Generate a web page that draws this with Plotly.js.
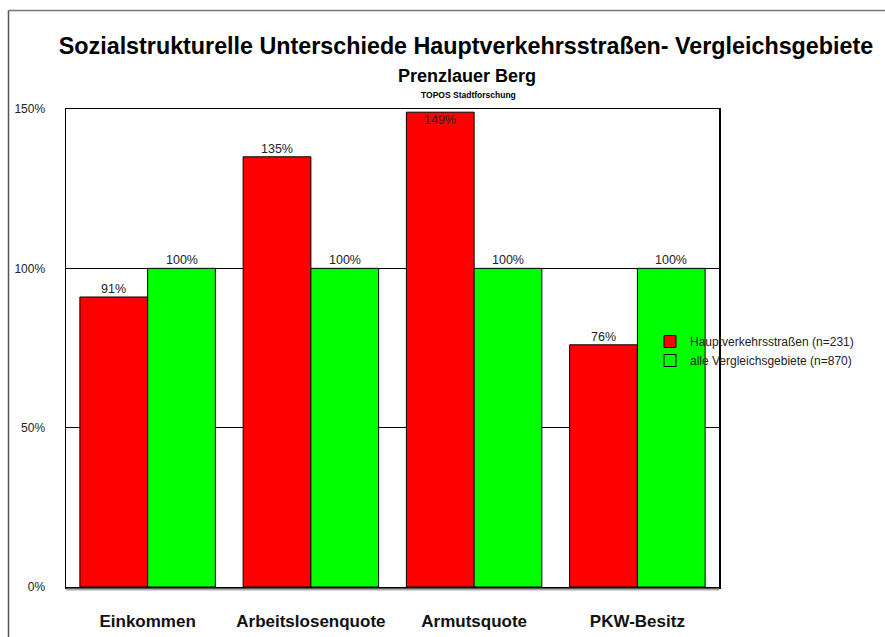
<!DOCTYPE html>
<html>
<head>
<meta charset="utf-8">
<script src="https://cdn.plot.ly/plotly-3.0.1.min.js"></script>
<style>html,body{margin:0;padding:0;background:#fff;}#chart{width:885px;height:637px;}</style>
</head>
<body>
<div id="chart"></div>
<script>
const categories = ["Einkommen", "Arbeitslosenquote", "Armutsquote", "PKW-Besitz"];
const hauptValues = [91, 135, 149, 76];
const vergleichValues = [100, 100, 100, 100];
const seriesNames = ["Hauptverkehrsstraßen (n=231)", "alle Vergleichsgebiete (n=870)"];
const yTickValues = [0, 50, 100, 150];
const yTickLabels = ["0%", "50%", "100%", "150%"];

const FONT = "Liberation Sans, Arial, sans-serif";
const W = 885, H = 637, L = 66, R = 166, T = 109, B = 50;
const pw = W - L - R, ph = H - T - B;
const px2x = p => (p - L) / pw;
const py2y = p => (H - B - p) / ph;

const bargap = 0.17;
const halfOff = (1 - bargap) / 4;

const traces = [
  {type: "bar", name: seriesNames[0], x: categories, y: hauptValues,
   marker: {color: "#FF0000", line: {color: "#000", width: 1}}, hoverinfo: "skip"},
  {type: "bar", name: seriesNames[1], x: categories, y: vergleichValues,
   marker: {color: "#00FF00", line: {color: "#000", width: 1}}, hoverinfo: "skip"}
];

const annotations = [];
[hauptValues, vergleichValues].forEach((vals, s) => {
  vals.forEach((v, i) => {
    const inside = v > 145;
    annotations.push({
      x: i + (s === 0 ? -halfOff : halfOff), xref: "x", y: v, yref: "y",
      text: v + "%", showarrow: false,
      yanchor: inside ? "top" : "bottom", yshift: inside ? 1 : -1,
      font: {family: FONT, size: 12.5, color: "#222"}
    });
  });
});
annotations.push({
  text: "<b>Prenzlauer Berg</b>", xref: "paper", yref: "paper",
  x: px2x(467), y: py2y(75.5), xanchor: "center", yanchor: "middle", showarrow: false,
  font: {family: FONT, size: 18, color: "#000"}
});
annotations.push({
  text: "<b>TOPOS Stadtforschung</b>", xref: "paper", yref: "paper",
  x: px2x(468), y: py2y(95), xanchor: "center", yanchor: "middle", showarrow: false,
  font: {family: FONT, size: 8.5, color: "#000"}
});

const shapes = [
  {type: "line", xref: "paper", yref: "paper", x0: px2x(8.5), x1: px2x(900), y0: py2y(10.5), y1: py2y(10.5),
   line: {color: "#777", width: 1.5}},
  {type: "line", xref: "paper", yref: "paper", x0: px2x(8.5), x1: px2x(8.5), y0: py2y(10.5), y1: py2y(660),
   line: {color: "#555", width: 1.5}},
  {type: "line", xref: "paper", yref: "paper", x0: 0, x1: 1, y0: py2y(589.5), y1: py2y(589.5),
   line: {color: "#aaa", width: 2}}
];

const layout = {
  width: W, height: H,
  margin: {l: L, r: R, t: T, b: B, pad: 0},
  paper_bgcolor: "#fff", plot_bgcolor: "#fff",
  barmode: "group", bargap: bargap, bargroupgap: 0,
  title: {text: "<b>Sozialstrukturelle Unterschiede Hauptverkehrsstraßen- Vergleichsgebiete</b>",
          x: 466 / W, xanchor: "center", xref: "container",
          y: 1 - 46 / H, yanchor: "middle", yref: "container",
          font: {family: FONT, size: 23.3, color: "#000"}},
  xaxis: {type: "category", showline: true, mirror: true, linecolor: "#000", linewidth: 1.5,
          showgrid: false, ticks: "", automargin: false, ticklabelstandoff: 18,
          tickfont: {family: FONT, size: 17, color: "#111", weight: "bold"}},
  yaxis: {range: [0, 150], tickvals: yTickValues, ticktext: yTickLabels,
          showline: true, mirror: true, linecolor: "#000", linewidth: 1.5,
          showgrid: true, gridcolor: "#000", gridwidth: 1, zeroline: false,
          ticks: "", automargin: false, ticklabelstandoff: 17,
          tickfont: {family: FONT, size: 12, color: "#222"}},
  legend: {x: px2x(650), xanchor: "left", y: py2y(327), yanchor: "top",
           bgcolor: "rgba(0,0,0,0)", borderwidth: 0,
           font: {family: FONT, size: 12, color: "#222"}},
  annotations: annotations,
  shapes: shapes
};

Plotly.newPlot("chart", traces, layout, {staticPlot: true, displayModeBar: false});
</script>
</body>
</html>
